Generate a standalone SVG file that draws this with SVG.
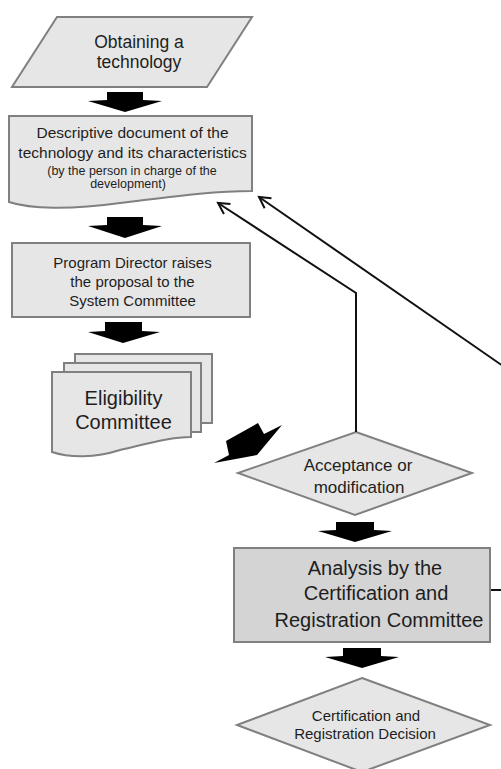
<svg xmlns="http://www.w3.org/2000/svg" width="501" height="769" viewBox="0 0 501 769">
<defs>
<style>
.node{fill:#e6e6e6;stroke:#808080;stroke-width:2}
.dark{fill:#d4d4d4;stroke:#808080;stroke-width:2}
.t{font-family:"Liberation Sans",Arial,sans-serif;fill:#1e1e1e;text-anchor:middle}
.blk{fill:#000}
.con{fill:none;stroke:#111;stroke-width:2}
</style>
<marker id="open" markerUnits="userSpaceOnUse" markerWidth="16" markerHeight="16" refX="12" refY="7" orient="auto">
<path d="M1,1 L12,7 L1,13" fill="none" stroke="#111" stroke-width="2"/>
</marker>
</defs>
<rect width="501" height="769" fill="#fff"/>
<g id="obtaining">
<polygon class="node" points="57,17 252,17 207,87 12,87"/>
<text class="t" x="139" y="48" font-size="17.5">Obtaining a</text>
<text class="t" x="139" y="68" font-size="17.5">technology</text>
</g>
<g id="descriptive">
<path class="node" d="M9,116 H252 V191 C210,191 170,197 120,203 C70,210 30,209 9,202 Z"/>
<text class="t" x="132.5" y="137.5" font-size="15.5">Descriptive document of the</text>
<text class="t" x="132.5" y="157.5" font-size="15.5">technology and its characteristics</text>
<text class="t" x="132" y="174.5" font-size="12.5">(by the person in charge of the</text>
<text class="t" x="128" y="187.5" font-size="12.5">development)</text>
</g>
<g id="program">
<rect class="node" x="12" y="243" width="238" height="74"/>
<text class="t" x="132.5" y="268" font-size="15">Program Director raises</text>
<text class="t" x="132.5" y="287" font-size="15">the proposal to the</text>
<text class="t" x="132.5" y="306" font-size="15">System Committee</text>
</g>
<g id="eligibility">
<rect class="node" x="75" y="354" width="137" height="69"/>
<rect class="node" x="64" y="363" width="137" height="69"/>
<path class="node" d="M52,372 H191 V437 C170,437 150,443 120,450 C95,458 70,458 52,452 Z"/>
<text class="t" x="123.5" y="405" font-size="20">Eligibility</text>
<text class="t" x="123.5" y="429" font-size="20">Committee</text>
</g>
<g id="acceptance">
<polygon class="node" points="356,432 472,473 355,515 238,473"/>
<text class="t" x="358" y="471" font-size="17">Acceptance or</text>
<text class="t" x="359" y="493" font-size="17">modification</text>
</g>
<g id="analysis">
<rect class="dark" x="234" y="548" width="256" height="94"/>
<text class="t" x="375" y="575" font-size="20">Analysis by the</text>
<text class="t" x="376" y="600" font-size="20">Certification and</text>
<text class="t" x="379" y="627" font-size="20">Registration Committee</text>
</g>
<g id="decision">
<polygon class="node" points="362,678 490,725 362,772 237,725"/>
<text class="t" x="366" y="721" font-size="15">Certification and</text>
<text class="t" x="365" y="739" font-size="15">Registration Decision</text>
</g>
<g id="connectors">
<polygon class="blk" points="107,92 143,92 143,100 162,101 125,112 88,101 107,100"/>
<polygon class="blk" points="107,217 143,217 143,225 162,226 125,238 88,226 107,225"/>
<polygon class="blk" points="105,322 142,322 142,331 160,332 123,343 88,332 105,331"/>
<polygon class="blk" points="226,441 258,423 264,434 282,425 257,455 214,463 229,455"/>
<polygon class="blk" points="336,522 374,522 374,530 392,531 355,542 318,531 336,530"/>
<polygon class="blk" points="343,648 381,648 381,656 399,657 362,668 325,657 343,656"/>
<polyline class="con" points="356,432 356,293 218,203" marker-end="url(#open)"/>
<line class="con" x1="516" y1="375" x2="259" y2="197" marker-end="url(#open)"/>
<line class="con" x1="491" y1="590" x2="501" y2="590"/>
</g>
</svg>
